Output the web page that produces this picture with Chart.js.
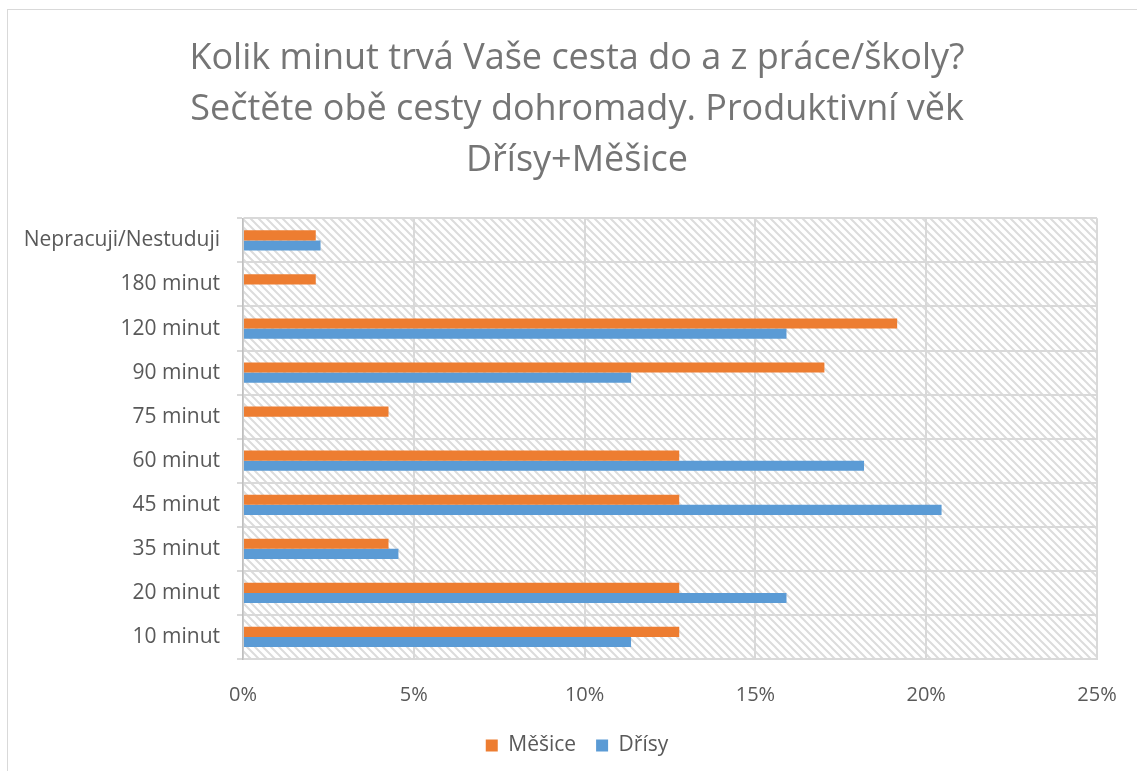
<!DOCTYPE html>
<html>
<head>
<meta charset="utf-8">
<script src="https://cdn.jsdelivr.net/npm/chart.js@4/dist/chart.umd.min.js"></script>
<style>
  html, body { margin: 0; padding: 0; background: #fff; overflow: hidden; }
  .wrap { position: relative; width: 1137px; height: 771px; }
  .frame { position: absolute; left: 7px; top: 9px; width: 1200px; height: 900px; border: 1.5px solid #d9d9d9; box-sizing: border-box; }
  canvas { position: absolute; left: 0; top: 0; }
</style>
</head>
<body>
<div class="wrap">
  <div class="frame"></div>
  <canvas class="canvas" width="1137" height="771"></canvas>
</div>
<script>
let titleLines = ["Kolik minut trvá Vaše cesta do a z práce/školy?", "Sečtěte obě cesty dohromady. Produktivní věk", "Dřísy+Měšice"];
let categories = ["Nepracuji/Nestuduji", "180 minut", "120 minut", "90 minut", "75 minut", "60 minut", "45 minut", "35 minut", "20 minut", "10 minut"];
let mesice = [2.13, 2.13, 19.15, 17.02, 4.26, 12.77, 12.77, 4.26, 12.77, 12.77];
let drisy = [2.27, 0, 15.91, 11.36, 0, 18.18, 20.45, 4.55, 15.91, 11.36];
let xTicks = [0, 5, 10, 15, 20, 25];

let canvas = document.querySelector(".canvas");
let font = "'Open Sans', sans-serif";
let textGray = "#595959";

// diagonal hatch like the excel plot area fill
let makeHatch = ()=>{
    let tile = document.createElement("canvas");
    tile.width = 8;
    tile.height = 8;
    let c = tile.getContext("2d");
    c.fillStyle = "#ffffff";
    c.fillRect(0, 0, 8, 8);
    c.strokeStyle = "#dcdcdc";
    c.lineWidth = 2;
    c.beginPath();
    c.moveTo(-2, -2); c.lineTo(10, 10);
    c.moveTo(-10, -2); c.lineTo(2, 10);
    c.moveTo(6, -2); c.lineTo(18, 10);
    c.stroke();
    return tile;
}

let hatchPlugin = {
    id: "hatch",
    afterLayout: (chart)=>{
        // let the long category label run left of the layout padding without being clipped
        chart.scales.y.left = 0;
    },
    beforeDraw: (chart)=>{
        let ctx = chart.ctx;
        let a = chart.chartArea;
        ctx.save();
        ctx.fillStyle = ctx.createPattern(makeHatch(), "repeat");
        ctx.fillRect(a.left, a.top, a.right - a.left, a.bottom - a.top);
        ctx.restore();
    }
};

let chartdata = {
    labels: categories,
    datasets: [
        {
            label: "Měšice",
            backgroundColor: "#ED7D31",
            data: mesice
        },
        {
            label: "Dřísy",
            backgroundColor: "#5B9BD5",
            data: drisy
        }
    ]
};

let chart = new Chart(canvas, {
    type: "bar",
    data: chartdata,
    plugins: [hatchPlugin],
    options: {
        responsive: false,
        animation: false,
        indexAxis: "y",
        layout: { padding: { left: 57, right: 40, top: 26, bottom: 5 } },
        datasets: { bar: { categoryPercentage: 0.46, barPercentage: 1.0, borderWidth: 0 } },
        scales: {
            x: {
                min: 0,
                max: 25,
                afterBuildTicks: (scale)=>{ scale.ticks = xTicks.map(v=>({value: v})); },
                afterFit: (scale)=>{
                    scale.height = 56;
                    scale.paddingRight = 0;
                },
                grid: { color: "#d9d9d9", lineWidth: 2, drawTicks: false },
                border: { color: "#d9d9d9", width: 2 },
                ticks: {
                    padding: 24,
                    color: textGray,
                    font: { family: font, size: 20 },
                    callback: (v)=>v + "%"
                }
            },
            y: {
                afterFit: (scale)=>{ scale.width = 186; },
                grid: { color: "#d9d9d9", lineWidth: 2, offset: true, tickLength: 6 },
                border: { color: "#bfbfbf", width: 1.5 },
                ticks: {
                    padding: 17,
                    color: textGray,
                    font: { family: font, size: 21 }
                }
            }
        },
        plugins: {
            title: {
                display: true,
                text: titleLines,
                color: "#757575",
                font: { family: font, size: 36, weight: "normal", lineHeight: 1.42 },
                padding: { top: 7, bottom: 32 }
            },
            legend: {
                position: "bottom",
                labels: {
                    color: textGray,
                    font: { family: font, size: 21 },
                    boxWidth: 12,
                    boxHeight: 12,
                    padding: 20
                }
            },
            tooltip: { enabled: false }
        }
    }
});
</script>
</body>
</html>
